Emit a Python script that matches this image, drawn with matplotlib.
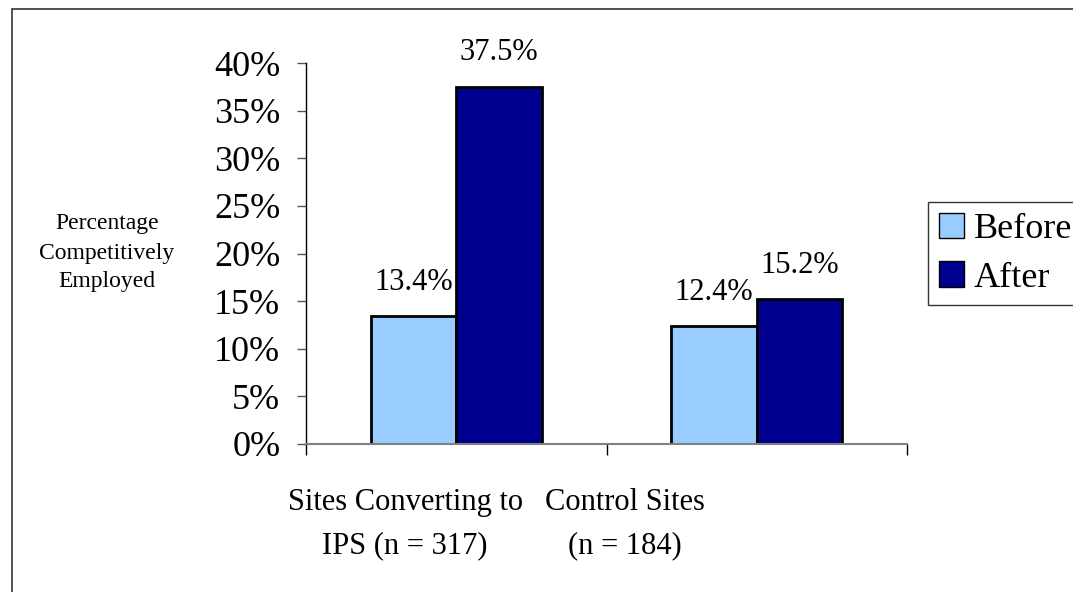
import matplotlib
matplotlib.use("Agg")
from matplotlib import pyplot as plt
from matplotlib.patches import Rectangle
from matplotlib.ticker import FuncFormatter
import numpy as np

# data
categories = ["Sites Converting to\nIPS (n = 317)", "Control Sites\n(n = 184)"]
series = ["Before", "After"]
before = [13.4, 12.4]
after = [37.5, 15.2]
y_ticks = [0, 5, 10, 15, 20, 25, 30, 35, 40]

plt.rcParams['font.family'] = ['Liberation Serif', 'DejaVu Serif']

fig = plt.figure(figsize=(10.73, 5.92), dpi=100)
ax = fig.add_axes([306/1073, 1-444/592, (907-306)/1073, (444-63)/592])

x = np.arange(len(categories))
w = 0.284
b1 = ax.bar(x - w/2, before, w, color='#99CCFF', edgecolor='black', linewidth=2, label=series[0])
b2 = ax.bar(x + w/2, after, w, color='#000090', edgecolor='black', linewidth=2, label=series[1])

for bars, vals in ((b1, before), (b2, after)):
    for rect, v in zip(bars, vals):
        ax.annotate(f"{v:.1f}%", (rect.get_x() + rect.get_width()/2, rect.get_height()),
                    xytext=(0, 19), textcoords='offset points', ha='center', va='baseline',
                    fontsize=22)

ax.set_xlim(-0.5, len(categories) - 0.5)
ax.set_ylim(0, 40)
ax.set_yticks(y_ticks)
ax.yaxis.set_major_formatter(FuncFormatter(lambda v, p: f"{v:.0f}%"))
ax.tick_params(axis='y', labelsize=26, length=6.5, width=1, color='#555555', pad=12)
ax.set_xticks(np.arange(len(categories) + 1) - 0.5)
ax.set_xticklabels([])
ax.tick_params(axis='x', length=8, width=1, color='black')

for s in ('top', 'right'):
    ax.spines[s].set_visible(False)
ax.spines['left'].set_color('black')
ax.spines['left'].set_linewidth(1)
ax.spines['bottom'].set_color('#808080')
ax.spines['bottom'].set_linewidth(1.5)

# category labels sit left of the group centres, like the original
label_shift = [-0.17, -0.44]
trans = ax.get_xaxis_transform()
for xi, lab, sh in zip(x, categories, label_shift):
    ax.text(xi + sh, -0.115, lab, transform=trans, ha='center', va='top',
            fontsize=22, multialignment='center', linespacing=1.65)

ax.text(107/1073, 1-253/592, "Percentage\nCompetitively\nEmployed", transform=fig.transFigure,
        ha='center', va='center', fontsize=17, multialignment='center', linespacing=1.5)

leg = fig.legend(loc='upper left', bbox_to_anchor=(928/1073, 1-202/592), fontsize=26,
                 frameon=True, fancybox=False, borderaxespad=0, borderpad=0.3,
                 handlelength=0.7, handleheight=0.7, handletextpad=0.27, labelspacing=0.42)
leg.get_frame().set_edgecolor('black')
leg.get_frame().set_linewidth(1)
for h in leg.legend_handles:
    h.set_linewidth(1)

# outer frame of the slide, runs off the right and bottom edges
fig.add_artist(Rectangle((12/1073, -0.1), 1.2, 1.1 - 9/592, transform=fig.transFigure,
                         fill=False, edgecolor='#333333', linewidth=1.2))

fig.savefig("out.png", dpi=100)
